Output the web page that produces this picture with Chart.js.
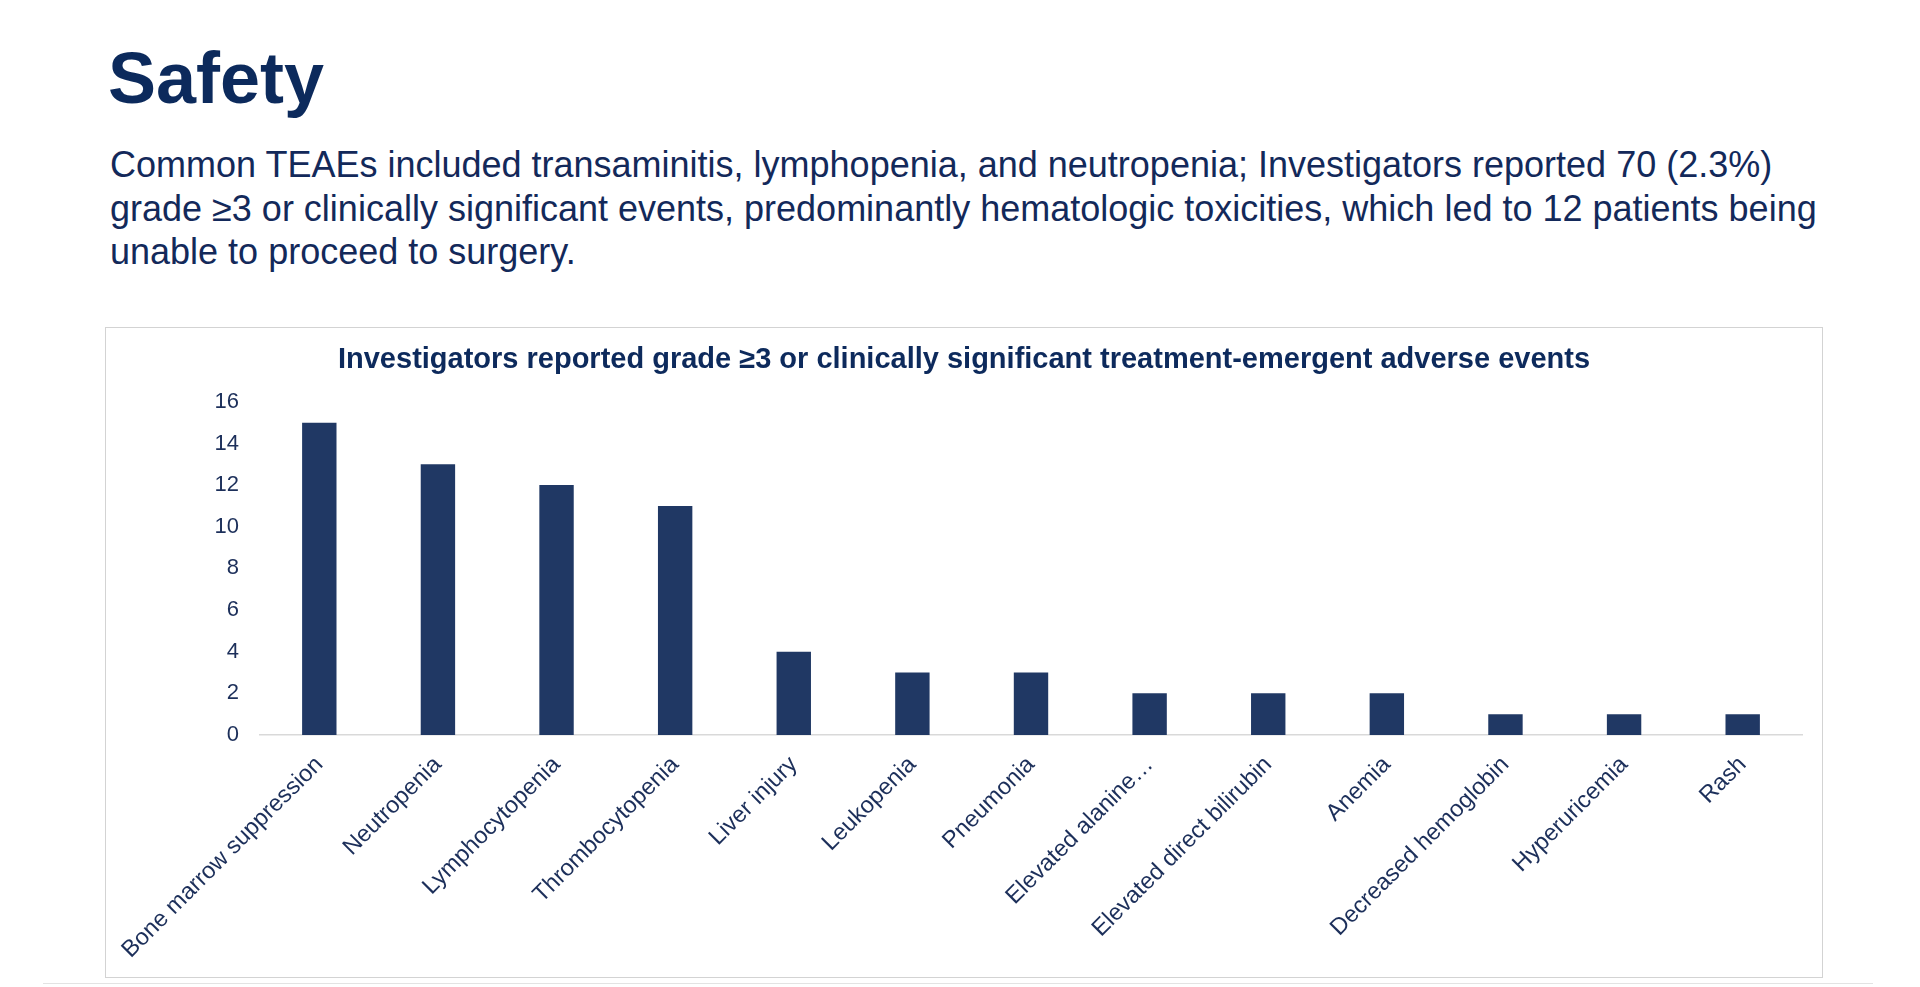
<!DOCTYPE html>
<html>
<head>
<meta charset="utf-8">
<script src="https://cdn.jsdelivr.net/npm/chart.js@4.4.1/dist/chart.umd.min.js"></script>
<style>
  html, body { margin: 0; padding: 0; background: #ffffff; }
  body { width: 1920px; height: 987px; position: relative; overflow: hidden; font-family: "Liberation Sans", Arial, sans-serif; }
  #title { position: absolute; left: 108px; top: 42px; font-size: 72px; font-weight: bold; color: #0c2a5c; line-height: 1; margin: 0; }
  #subtitle { position: absolute; left: 110px; top: 143px; font-size: 36px; color: #13295a; line-height: 43.5px; margin: 0; white-space: nowrap; }
  #box { position: absolute; left: 105px; top: 327px; width: 1716px; height: 649px; border: 1px solid #d3d3d3; background: #fff; }
  #wrap { position: absolute; left: 0; top: 0; width: 1716px; height: 649px; }
  #bottomline { position: absolute; left: 43px; top: 983px; width: 1830px; height: 1px; background: #e3e3e3; }
</style>
</head>
<body>
<h1 id="title">Safety</h1>
<p id="subtitle">Common TEAEs included transaminitis, lymphopenia, and neutropenia; Investigators reported 70 (2.3%)<br>grade ≥3 or clinically significant events, predominantly hematologic toxicities, which led to 12 patients being<br>unable to proceed to surgery.</p>
<div id="box"><div id="wrap"><canvas id="c"></canvas></div></div>
<div id="bottomline"></div>
<script>
const chartTitle = "Investigators reported grade ≥3 or clinically significant treatment-emergent adverse events";
const categories = ["Bone marrow suppression", "Neutropenia", "Lymphocytopenia", "Thrombocytopenia", "Liver injury", "Leukopenia", "Pneumonia", "Elevated alanine…", "Elevated direct bilirubin", "Anemia", "Decreased hemoglobin", "Hyperuricemia", "Rash"];
const eventCounts = [15, 13, 12, 11, 4, 3, 3, 2, 2, 2, 1, 1, 1];
const yTicks = [0, 2, 4, 6, 8, 10, 12, 14, 16];

const FONT = "'Liberation Sans', Arial, sans-serif";
new Chart(document.getElementById('c'), {
  type: 'bar',
  data: {
    labels: categories,
    datasets: [{
      data: eventCounts,
      backgroundColor: '#203864',
      categoryPercentage: 1.0,
      barPercentage: 0.29
    }]
  },
  options: {
    responsive: true,
    maintainAspectRatio: false,
    animation: false,
    layout: { padding: { left: 20, right: 20, top: 0, bottom: 0 } },
    plugins: {
      legend: { display: false },
      tooltip: { enabled: false },
      title: {
        display: true,
        text: chartTitle,
        color: '#0d2a5c',
        font: { family: FONT, size: 29, weight: 'bold', lineHeight: 1.2 },
        padding: { top: 15, bottom: 24 }
      }
    },
    scales: {
      x: {
        grid: { display: false },
        border: { display: true, color: '#d9d9d9', width: 1.5 },
        ticks: {
          autoSkip: false, maxRotation: 45, minRotation: 45,
          color: '#1c2f5a', padding: 8,
          font: { family: FONT, size: 23.5 }
        },
        afterFit: s => { s.height = 242; }
      },
      y: {
        min: 0, max: 16,
        grid: { display: false, drawTicks: false },
        border: { display: false },
        afterBuildTicks: s => { s.ticks = yTicks.map(v => ({ value: v })); },
        ticks: {
          color: '#1c2f5a', padding: 21,
          font: { family: FONT, size: 22 }
        },
        afterFit: s => { s.width = 134; }
      }
    }
  }
});
</script>
</body>
</html>
